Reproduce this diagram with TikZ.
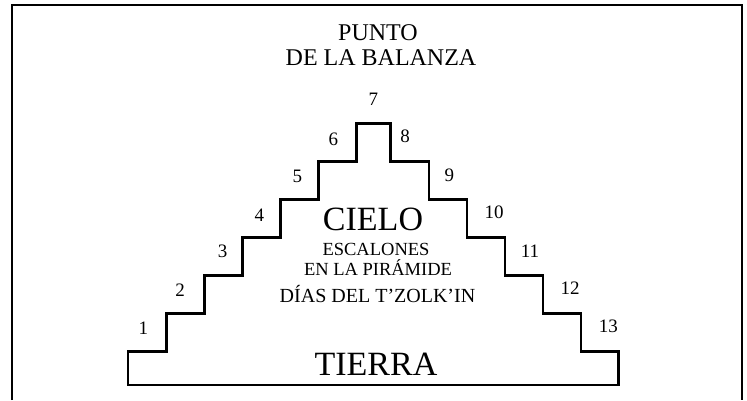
\documentclass[tikz,border=0pt]{standalone}
\usepackage{fontspec}
\setmainfont{Liberation Serif}
\begin{document}
\begin{tikzpicture}[x=1pt,y=-1pt,
  outline/.style={line width=2.8pt, line join=miter},
  frameline/.style={line width=1.3pt},
  numlabel/.style={font=\fontsize{19}{19}\selectfont, inner sep=0pt},
  toptext/.style={font=\fontsize{24}{24}\selectfont, anchor=base, inner sep=0pt},
  subtext/.style={font=\fontsize{18.5}{18.5}\selectfont, anchor=base, inner sep=0pt},
  bigtext/.style={anchor=base, inner sep=0pt}]
\useasboundingbox (0,0) rectangle (747,400);
% frame
\draw[frameline] (12,400) -- (12,5) -- (742,5) -- (742,400);
% pyramid
\draw[outline] (128,385) -- (128,351.5) -- (166.7,351.5) -- (166.7,313.5)
  -- (204.5,313.5) -- (204.5,275.5) -- (242.5,275.5) -- (242.5,237.5)
  -- (280.5,237.5) -- (280.5,199.5) -- (318.5,199.5) -- (318.5,161.3)
  -- (356.7,161.3) -- (356.7,123.3) -- (390.7,123.3) -- (390.7,161.3)
  -- (429,161.3) -- (429,199.5) -- (467,199.5) -- (467,237.5)
  -- (505,237.5) -- (505,275.5) -- (543,275.5) -- (543,313.5)
  -- (581,313.5) -- (581,351.5) -- (618.5,351.5) -- (618.5,385) -- cycle;
% titles
\node[toptext] (punto) at (378,40.7) {PUNTO};
\node[toptext] (balanza) at (381,65) {DE LA BALANZA};
\node[bigtext, font=\fontsize{34}{34}\selectfont] (cielo) at (373,230) {CIELO};
\node[subtext] (escalones) at (376,255.5) {ESCALONES};
\node[subtext] (piramide) at (378,275) {EN LA PIRÁMIDE};
\node[subtext, font=\fontsize{20}{20}\selectfont] (dias) at (377.5,302) {DÍAS DEL T’ZOLK’IN};
\node[bigtext, font=\fontsize{34}{34}\selectfont] (tierra) at (376,375) {TIERRA};
% step numbers
\node[numlabel] (n1) at (143.3,328.3) {1};
\node[numlabel] (n2) at (180,290) {2};
\node[numlabel] (n3) at (222.7,251.7) {3};
\node[numlabel] (n4) at (259.3,215) {4};
\node[numlabel] (n5) at (297.3,176.7) {5};
\node[numlabel] (n6) at (333.3,139.3) {6};
\node[numlabel] (n7) at (373.3,99.5) {7};
\node[numlabel] (n8) at (405,136.7) {8};
\node[numlabel] (n9) at (449.3,175) {9};
\node[numlabel] (n10) at (494,212.7) {10};
\node[numlabel] (n11) at (530,251.7) {11};
\node[numlabel] (n12) at (570,288.3) {12};
\node[numlabel] (n13) at (608.3,326.7) {13};
\end{tikzpicture}
\end{document}
